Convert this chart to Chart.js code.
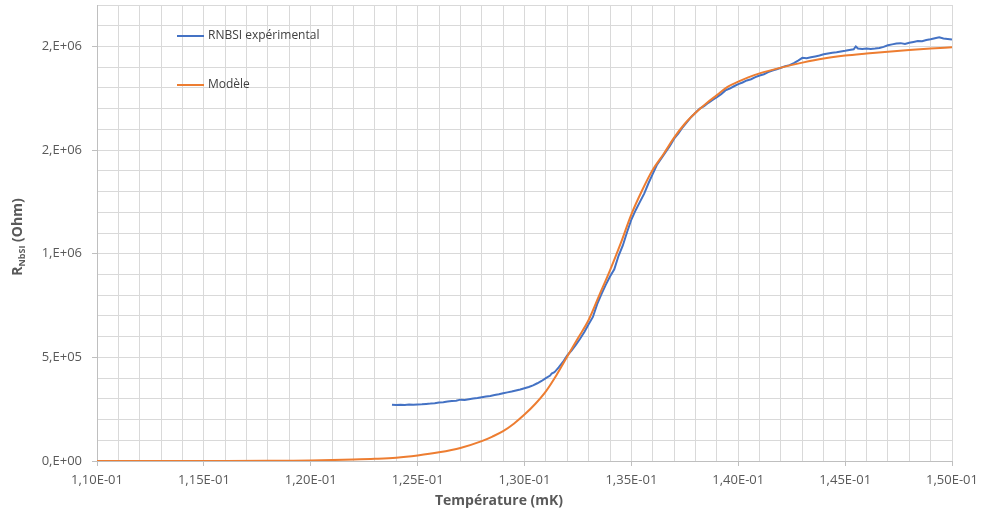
<!DOCTYPE html>
<html>
<head>
<meta charset="utf-8">
<script src="https://cdn.jsdelivr.net/npm/chart.js@4.4.1/dist/chart.umd.min.js"></script>
<style>
  html, body { margin: 0; padding: 0; background: #fff; }
  #wrap { width: 981px; height: 515px; }
</style>
</head>
<body>
<div id="wrap"><canvas id="chart" width="981" height="515"></canvas></div>
<script>
/* ── Data ── */
const tempExp = [
  0.1238, 0.1240, 0.1242, 0.1244, 0.1246, 0.1248, 0.1250, 0.1252, 0.1254, 0.1256,
  0.1258, 0.1260, 0.1262, 0.1264, 0.1266, 0.1268, 0.1270, 0.1272, 0.1274, 0.1276,
  0.1278, 0.1280, 0.1282, 0.1284, 0.1286, 0.1288, 0.1290, 0.1292, 0.1294, 0.1296,
  0.1298, 0.1300, 0.1302, 0.1304, 0.1306, 0.1308, 0.1310, 0.1312, 0.13127, 0.1314,
  0.1316, 0.1318, 0.1320, 0.1322, 0.1324, 0.1326, 0.1328, 0.1330, 0.1332, 0.1334,
  0.1336, 0.1338, 0.1340, 0.1342, 0.1344, 0.1346, 0.1348, 0.1350, 0.1352, 0.1354,
  0.1356, 0.1358, 0.1360, 0.1362, 0.1364, 0.1366, 0.1368, 0.1370, 0.1372, 0.1374,
  0.1376, 0.1378, 0.1380, 0.1382, 0.1384, 0.1386, 0.1388, 0.1390, 0.1392, 0.1394,
  0.1396, 0.1398, 0.1400, 0.1402, 0.1404, 0.1406, 0.1408, 0.1410, 0.1412, 0.1414,
  0.1416, 0.1418, 0.1420, 0.1422, 0.1424, 0.1426, 0.1428, 0.1430, 0.1432, 0.1434,
  0.1436, 0.1438, 0.1440, 0.1442, 0.1444, 0.1446, 0.1448, 0.1450, 0.1452, 0.1454,
  0.1455, 0.1456, 0.1458, 0.1460, 0.1462, 0.1464, 0.1466, 0.1468, 0.1470, 0.1472,
  0.1474, 0.1476, 0.1478, 0.1480, 0.1482, 0.1484, 0.1486, 0.1488, 0.1490, 0.1492,
  0.1494, 0.1496, 0.1498, 0.1500
];
const rExp = [
  271000, 270000, 271000, 270500, 272000, 271500, 273000, 274000, 275500, 277000,
  279000, 282000, 284000, 286500, 289000, 291000, 296000, 294000, 298000, 301000,
  304000, 308000, 311000, 314000, 318000, 322000, 327000, 331000, 335000, 340000,
  345000, 351000, 357000, 365000, 375000, 386000, 400000, 412000, 422000, 428000,
  452000, 478000, 510000, 533000, 560000, 590000, 622000, 660000, 695000, 757000,
  805000, 850000, 890000, 925000, 990000, 1040000, 1105000, 1165000, 1210000, 1250000,
  1290000, 1340000, 1385000, 1430000, 1460000, 1490000, 1520000, 1555000, 1580000, 1610000,
  1635000, 1660000, 1680000, 1700000, 1712000, 1728000, 1742000, 1755000, 1770000, 1788000,
  1797000, 1808000, 1818000, 1826000, 1836000, 1842000, 1852000, 1860000, 1866000, 1876000,
  1884000, 1890000, 1897000, 1905000, 1910000, 1920000, 1932000, 1945000, 1943000, 1948000,
  1952000, 1956000, 1962000, 1966000, 1970000, 1972000, 1976000, 1979000, 1983000, 1986000,
  2000000, 1990000, 1988000, 1990000, 1988000, 1990000, 1993000, 1998000, 2006000, 2010000,
  2014000, 2016000, 2012000, 2018000, 2022000, 2026000, 2025000, 2031000, 2035000, 2040000,
  2044000, 2038000, 2036000, 2033000
];

const tempModel = [
  0.110, 0.112, 0.114, 0.116, 0.118, 0.119, 0.120, 0.121, 0.122, 0.123,
  0.124, 0.125, 0.126, 0.127, 0.128, 0.1285, 0.129, 0.1295, 0.130, 0.1305,
  0.131, 0.1315, 0.132, 0.1325, 0.133, 0.1335, 0.134, 0.1345, 0.135, 0.1355,
  0.136, 0.1365, 0.137, 0.1375, 0.138, 0.1385, 0.139, 0.1395, 0.140, 0.1405,
  0.141, 0.142, 0.143, 0.144, 0.145, 0.146, 0.147, 0.148, 0.149, 0.150
];
const rModel = [
  0, 0, 0, 200, 800, 1500, 2500, 4500, 7000, 10500,
  16000, 27000, 42000, 63000, 96000, 118000, 144000, 180000, 224000, 275000,
  336000, 415000, 504000, 592000, 680000, 800000, 920000, 1050000, 1190000, 1305000,
  1405000, 1480000, 1560000, 1627000, 1680000, 1725000, 1765000, 1805000, 1830000, 1852000,
  1870000, 1898000, 1922000, 1942000, 1956000, 1966000, 1975000, 1983000, 1990000, 1996000
];

const seriesLabels = ['RNBSI expérimental', 'Modèle'];
const xTickLabels = ['1,10E-01', '1,15E-01', '1,20E-01', '1,25E-01', '1,30E-01',
                     '1,35E-01', '1,40E-01', '1,45E-01', '1,50E-01'];
const yTickLabels = ['0,E+00', '5,E+05', '1,E+06', '2,E+06', '2,E+06'];

const BLUE = '#4472c4';
const ORANGE = '#ed7d31';
const GRID = '#d9d9d9';
const TEXT = '#595959';
const FONT = '"Open Sans", "Liberation Sans", sans-serif';

const toPoints = (xs, ys) => xs.map((x, i) => ({ x, y: ys[i] }));

/* ── In-plot legend + axis titles (subscript) ── */
const decorations = {
  id: 'decorations',
  afterDraw(chart) {
    const { ctx } = chart;
    ctx.save();
    // legend
    const rows = [{ y: 36, color: BLUE, text: seriesLabels[0] }, { y: 85, color: ORANGE, text: seriesLabels[1] }];
    ctx.font = `12px ${FONT}`;
    ctx.textBaseline = 'middle';
    rows.forEach(r => {
      ctx.strokeStyle = r.color;
      ctx.lineWidth = 2;
      ctx.beginPath();
      ctx.moveTo(177, r.y);
      ctx.lineTo(204, r.y);
      ctx.stroke();
      ctx.fillStyle = '#404040';
      ctx.textAlign = 'left';
      ctx.fillText(r.text, 208, r.y);
    });

    // x title
    ctx.fillStyle = TEXT;
    ctx.font = `bold 14px ${FONT}`;
    ctx.textAlign = 'center';
    ctx.fillText('Température (mK)', 499, 501);

    // y title with subscript, rotated
    ctx.translate(18, 237);
    ctx.rotate(-Math.PI / 2);
    const big = `bold 14px ${FONT}`, small = `bold 9px ${FONT}`;
    ctx.font = big; const wR = ctx.measureText('R').width;
    const wTail = ctx.measureText(' (Ohm)').width;
    ctx.font = small; const wSub = ctx.measureText('NbSI').width;
    let x = -(wR + wSub + wTail) / 2;
    ctx.textAlign = 'left';
    ctx.font = big; ctx.fillText('R', x, 0); x += wR;
    ctx.font = small; ctx.fillText('NbSI', x, 4); x += wSub;
    ctx.font = big; ctx.fillText(' (Ohm)', x, 0);
    ctx.restore();
  }
};

new Chart(document.getElementById('chart'), {
  type: 'line',
  data: {
    datasets: [
      {
        label: seriesLabels[0],
        data: toPoints(tempExp, rExp),
        borderColor: BLUE,
        borderWidth: 2,
        pointRadius: 0,
        tension: 0,
        order: 2,
      },
      {
        label: seriesLabels[1],
        data: toPoints(tempModel, rModel),
        borderColor: ORANGE,
        borderWidth: 2,
        pointRadius: 0,
        cubicInterpolationMode: 'monotone',
        order: 1,
      }
    ]
  },
  options: {
    responsive: false,
    animation: false,
    layout: { padding: { left: 0, top: 5, right: 29, bottom: 0 } },
    plugins: { legend: { display: false }, tooltip: { enabled: false } },
    scales: {
      x: {
        type: 'linear',
        min: 0.110, max: 0.150,
        afterFit: s => { s.height = 54; s.paddingLeft = 0; s.paddingRight = 0; },
        border: { color: '#bfbfbf' },
        grid: {
          color: GRID,
          tickLength: 5,
          tickColor: c => (c.index % 5 === 0 ? '#bfbfbf' : 'rgba(0,0,0,0)'),
        },
        ticks: {
          stepSize: 0.001,
          autoSkip: false,
          maxRotation: 0,
          padding: 6,
          color: TEXT,
          font: { family: FONT, size: 13 },
          callback: (v, i) => (i % 5 === 0 ? xTickLabels[i / 5] : ''),
        }
      },
      y: {
        min: 0, max: 2200000,
        afterFit: s => { s.width = 97; s.paddingTop = 0; s.paddingBottom = 0; },
        border: { color: '#bfbfbf' },
        grid: {
          color: GRID,
          tickLength: 5,
          tickColor: c => (c.index % 5 === 0 ? '#bfbfbf' : 'rgba(0,0,0,0)'),
        },
        ticks: {
          stepSize: 100000,
          autoSkip: false,
          padding: 10,
          color: TEXT,
          font: { family: FONT, size: 13 },
          callback: (v, i) => (i % 5 === 0 ? yTickLabels[i / 5] : ''),
        }
      }
    }
  },
  plugins: [decorations]
});
</script>
</body>
</html>
